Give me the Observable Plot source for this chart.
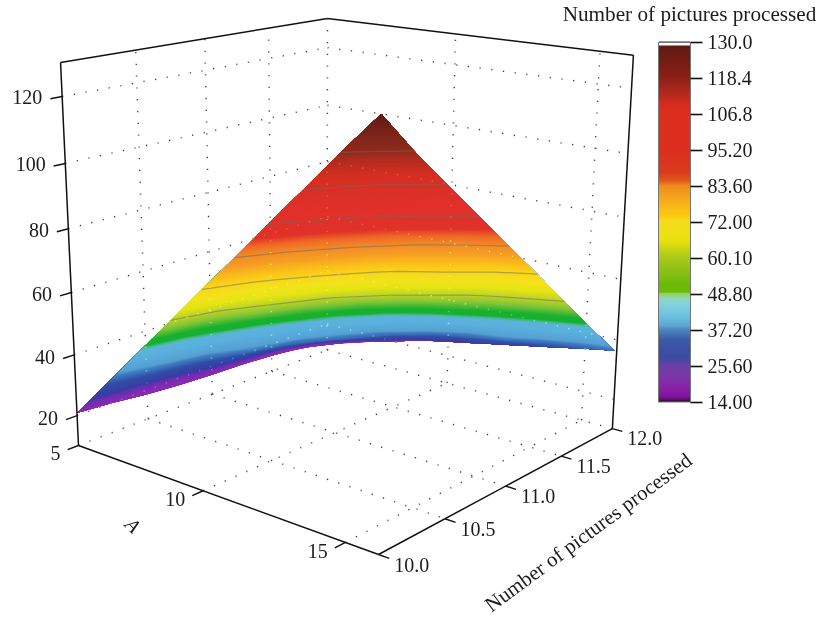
<!DOCTYPE html><html><head><meta charset="utf-8"></head><body style="margin:0;background:#fff">
<script src="https://cdn.jsdelivr.net/npm/d3@7"></script>
<script src="https://cdn.jsdelivr.net/npm/@observablehq/plot@0.6"></script>
<div id="chart"></div>
<script>
// Surface samples: one row per N (10 → 12), one column per A (5 → 16)
const A_VALUES = [5,6,7,8,9,10,11,12,13,14,15,16];
const N_VALUES = [10,10.25,10.5,10.75,11,11.25,11.5,11.75,12];
const Z_N10_00 = [20.9,30.8,40.8,50.7,60.7,70.6,80.6,90.5,100.5,110.4,120.4,130.0];
const Z_N10_25 = [19.9,28.7,36.6,47.7,57.2,65.8,74.3,83.1,92.0,101.5,110.5,117.3];
const Z_N10_50 = [18.5,26.9,34.1,42.8,52.1,59.7,67.5,75.2,83.4,91.3,98.7,105.7];
const Z_N10_75 = [17.6,24.3,31.4,36.8,46.7,54.5,61.4,67.9,75.0,81.6,87.8,94.1];
const Z_N11_00 = [17.0,23.0,29.6,34.4,40.3,48.5,54.9,60.2,65.4,70.4,77.4,82.5];
const Z_N11_25 = [16.6,22.6,27.8,31.7,35.1,40.8,47.3,52.3,57.0,62.2,66.3,70.9];
const Z_N11_50 = [15.8,21.2,25.1,28.7,31.6,35.1,38.9,43.5,47.2,51.4,55.5,59.2];
const Z_N11_75 = [14.6,18.4,21.9,24.4,27.4,30.3,32.9,35.0,36.9,40.4,44.0,47.6];
const Z_N12_00 = [12.0,15.3,17.9,20.5,23.1,25.0,26.9,28.8,30.7,32.6,34.5,36.3];
const Z_ROWS = [Z_N10_00,Z_N10_25,Z_N10_50,Z_N10_75,Z_N11_00,Z_N11_25,Z_N11_50,Z_N11_75,Z_N12_00];

const Z_TICKS = [20,40,60,80,100,120];
const A_TICKS = [5,10,15];
const N_TICKS = [10,10.5,11,11.5,12];
const N_TICK_LABELS = ["10.0","10.5","11.0","11.5","12.0"];
const CONTOUR_LEVELS = [60.1,72,83.6,95.2,106.8,118.4];
const LEGEND_LABELS = ["130.0","118.4","106.8","95.20","83.60","72.00","60.10","48.80","37.20","25.60","14.00"];
const TITLE = "Number of pictures processed";

// colour ramp of the surface
const SURF_STOPS  = [14,20,25,27,33,37,38.5,44,47.5,48.8,49.5,52,56,58,61,64,68,72,75,79.3,83.6,87,90,100,110,115,118.4,124,130];
const SURF_COLORS = ["#8c2ab0","#8a2cb4","#6a2fb0","#3a3ca4","#3150a8","#3f7ec0","#569fd2","#5ab0de","#5cb4d8","#3fb878","#18b030","#18b030","#7fc43a","#a0cc2c","#c6d824","#e6e414","#f3e21c","#f9d51a","#fbc31a","#f6a024","#f28a28","#ef6a26","#e0322a","#e0302a","#d52f22","#b52c20","#8f2a1c","#7a231a","#5e1a14"];
// colour ramp of the colour bar
const BAR_STOPS  = [14,14.6,15.5,18,22,25.6,28,34,37.2,38.5,41,45,47,48.8,49.2,52,56,60.1,64,66,72,74,76,80,83.6,85,88,95.2,106.8,110,113,118.4,125,130];
const BAR_COLORS = ["#201020","#5a1060","#7f10a0","#8a20a8","#7b36a8","#6a3fa8","#3d4aa0","#3a5aa8","#4d88bd","#5fa5cf","#69bedd","#7fd0e0","#8fd8c0","#8fcf6a","#6dbb08","#6cbb0a","#8cc016","#a8c81c","#d0d810","#e8e30c","#f5dc1d","#fbc80f","#f9bc14","#f5a31c","#ee8a1c","#e25b1a","#d93a1c","#dd2e20","#dd2e20","#d42c1e","#b32a1e","#8c2018","#6e1c14","#5a1a14"];

// 3D box of the chart and its perspective camera
const A0 = 5, A1 = 16.07, N0 = 10, N1 = 12, Z0 = 10, Z1 = 130;
function project(A, N, Z) {
  const a = (A - A0) / (A1 - A0), n = (N - N0) / (N1 - N0), t = (Z - Z0) / (Z1 - Z0);
  const w = 1 - .1377 * a + .1646 * n - .0691 * t;
  return [(78 + 248 * a + 302.3 * n - 22.1 * t) / w, (445 + 32.7 * a - 38 * n - 387.3 * t) / w];
}
const seg = (p, q) => { const a = project(...p), b = project(...q); return {x1: a[0], y1: a[1], x2: b[0], y2: b[1]}; };

// surface as stacked contour polygons
const nx = A_VALUES.length, ny = N_VALUES.length;
const flat = Z_ROWS.flat();
function gridPoint(gx, gy) {
  const u = Math.min(Math.max(gx - .5, 0), nx - 1), v = Math.min(Math.max(gy - .5, 0), ny - 1);
  const i = Math.min(Math.floor(u), nx - 2), j = Math.min(Math.floor(v), ny - 2), fu = u - i, fv = v - j;
  const z = (1 - fv) * ((1 - fu) * Z_ROWS[j][i] + fu * Z_ROWS[j][i + 1]) + fv * ((1 - fu) * Z_ROWS[j + 1][i] + fu * Z_ROWS[j + 1][i + 1]);
  const A = A_VALUES[i] + fu * (A_VALUES[i + 1] - A_VALUES[i]), N = N_VALUES[j] + fv * (N_VALUES[j + 1] - N_VALUES[j]);
  const [x, y] = project(A, N, z);
  return {x, y, z, eu: u <= 0 ? 1 : u >= nx - 1 ? 2 : 0, ev: v <= 0 ? 1 : v >= ny - 1 ? 2 : 0};
}
const contour = d3.contours().size([nx, ny]);
const bands = [];
let id = 0;
const minZ = d3.min(flat), maxZ = d3.max(flat);
for (const t of [minZ - .01, ...d3.range(Math.ceil(minZ * 2) / 2, maxZ, .5)]) {
  for (const poly of contour.contour(flat, t).coordinates) {
    id++;
    for (const [gx, gy] of poly[0]) { const p = gridPoint(gx, gy); bands.push({...p, id, v: t}); }
  }
}
// iso-lines: drop ring pieces running along the domain border
const isoPts = [];
let sid = 0;
for (const t of CONTOUR_LEVELS) {
  for (const poly of contour.contour(flat, t).coordinates) {
    const ring = poly[0].map(([gx, gy]) => gridPoint(gx, gy));
    sid++;
    for (let k = 1; k < ring.length; k++) {
      const p = ring[k - 1], q = ring[k];
      const border = (p.eu && p.eu === q.eu) || (p.ev && p.ev === q.ev);
      if (border) { sid++; continue; }
      isoPts.push({x: p.x, y: p.y, id: sid, l: t}, {x: q.x, y: q.y, id: sid, l: t});
    }
  }
}

// dotted grid
const grid = [
  seg([A0, N0, Z0], [A0, N1, Z0]), seg([A0, N1, Z0], [A1, N1, Z0]), seg([A0, N1, Z0], [A0, N1, Z1]),
  ...Z_TICKS.map(z => seg([A0, N0, z], [A0, N1, z])),
  ...Z_TICKS.map(z => seg([A0, N1, z], [A1, N1, z])),
  ...N_TICKS.slice(1, -1).map(n => seg([A0, n, Z0], [A0, n, Z1])),
  ...N_TICKS.slice(1, -1).map(n => seg([A0, n, Z0], [A1, n, Z0])),
  ...A_TICKS.slice(1).map(a => seg([a, N1, Z0], [a, N1, Z1])),
  ...A_TICKS.slice(1).map(a => seg([a, N0, Z0], [a, N1, Z0]))
];
// solid box edges
const box = [
  seg([A0, N0, Z0], [A1, N0, Z0]), seg([A1, N0, Z0], [A1, N1, Z0]),
  seg([A0, N0, Z0], [A0, N0, Z1]), seg([A1, N1, Z0], [A1, N1, Z1]),
  seg([A0, N0, Z1], [A0, N1, Z1]), seg([A0, N1, Z1], [A1, N1, Z1])
];
const TICK_N = N0 - .075, TICK_A = A1 + .34;
const zTicks = Z_TICKS.map(z => ({...seg([A0, N0, z], [A0, TICK_N, z]), label: String(z)}));
const aTicks = A_TICKS.map(a => ({...seg([a, N0, Z0], [a, TICK_N, Z0]), label: String(a)}));
const nTicks = N_TICKS.map((n, i) => ({...seg([A1, n, Z0], [TICK_A, n, Z0]), label: N_TICK_LABELS[i]}));

// colour bar (evenly spaced ticks)
const barColor = d3.scaleLinear().domain(BAR_STOPS).range(BAR_COLORS).clamp(true);
const barY = v => 42 + (130 - v) / 116 * 360;
const barCells = d3.range(14, 130, 116 / 360).map(v => ({v, y1: barY(v), y2: barY(v) - 1.5}));
const legendTicks = LEGEND_LABELS.map((label, i) => ({label, y: 42 + 36 * i}));
const INK = "#1c1c1c";
const fs = 20;

const chart = Plot.plot({
  width: 819, height: 618, margin: 0,
  style: {fontFamily: "'Liberation Serif', serif", background: "#fff"},
  x: {domain: [0, 819], range: [0, 819], axis: null},
  y: {domain: [0, 618], range: [0, 618], axis: null},
  color: {type: "linear", domain: SURF_STOPS, range: SURF_COLORS, clamp: true, interpolate: "rgb"},
  marks: [
    Plot.link(grid, {x1: "x1", y1: "y1", x2: "x2", y2: "y2", stroke: "#222", strokeWidth: 1.5, strokeDasharray: "1.3 10.5"}),
    Plot.line(bands, {x: "x", y: "y", z: "id", fill: "v", stroke: "none"}),
    Plot.line(isoPts, {x: "x", y: "y", z: "id", stroke: "#6b6b5a", strokeOpacity: .5, strokeWidth: 1.2}),
    Plot.link(grid, {x1: "x1", y1: "y1", x2: "x2", y2: "y2", stroke: "#ddd", strokeWidth: 1.5, strokeDasharray: "1.3 10.5", mixBlendMode: "overlay"}),
    Plot.link(box, {x1: "x1", y1: "y1", x2: "x2", y2: "y2", stroke: "#111", strokeWidth: 1.5}),
    Plot.link([...zTicks, ...aTicks, ...nTicks], {x1: "x1", y1: "y1", x2: "x2", y2: "y2", stroke: "#111", strokeWidth: 1.4}),
    Plot.text(zTicks, {x: "x2", y: "y2", text: "label", textAnchor: "end", dx: -8, dy: -1, fontSize: fs, fill: INK}),
    Plot.text(aTicks, {x: "x2", y: "y2", text: "label", textAnchor: "end", dx: -7, dy: 4, fontSize: fs, fill: INK}),
    Plot.text(nTicks, {x: "x2", y: "y2", text: "label", textAnchor: "start", dx: 5, dy: 7, fontSize: fs, fill: INK}),
    Plot.text([TITLE], {x: 588, y: 532, text: d => d, rotate: -36.5, fontSize: 21, fill: INK}),
    Plot.text(["A"], {x: 132, y: 525, text: d => d, rotate: 45, fontStyle: "italic", fontSize: fs, fill: INK}),
    // colour bar
    Plot.rect(barCells, {x1: 659, x2: 690, y1: "y1", y2: "y2", fill: {value: d => barColor(d.v), scale: null}}),
    Plot.rect([0], {x1: 659, x2: 690, y1: 43, y2: 45.5, fill: "#fff"}),
    Plot.rect([0], {x1: 658.5, x2: 690.5, y1: 42.5, y2: 402, fill: "none", stroke: "#777", strokeWidth: 1}),
    Plot.link(legendTicks, {x1: 690, x2: 702, y1: "y", y2: "y", stroke: "#111", strokeWidth: 1.6}),
    Plot.text(legendTicks, {x: 707, y: "y", text: "label", textAnchor: "start", fontSize: fs, fill: INK}),
    Plot.text([TITLE], {x: 689, y: 14, text: d => d, fontSize: 21.2, fill: INK})
  ]
});
document.getElementById("chart").appendChild(chart);
</script></body></html>
